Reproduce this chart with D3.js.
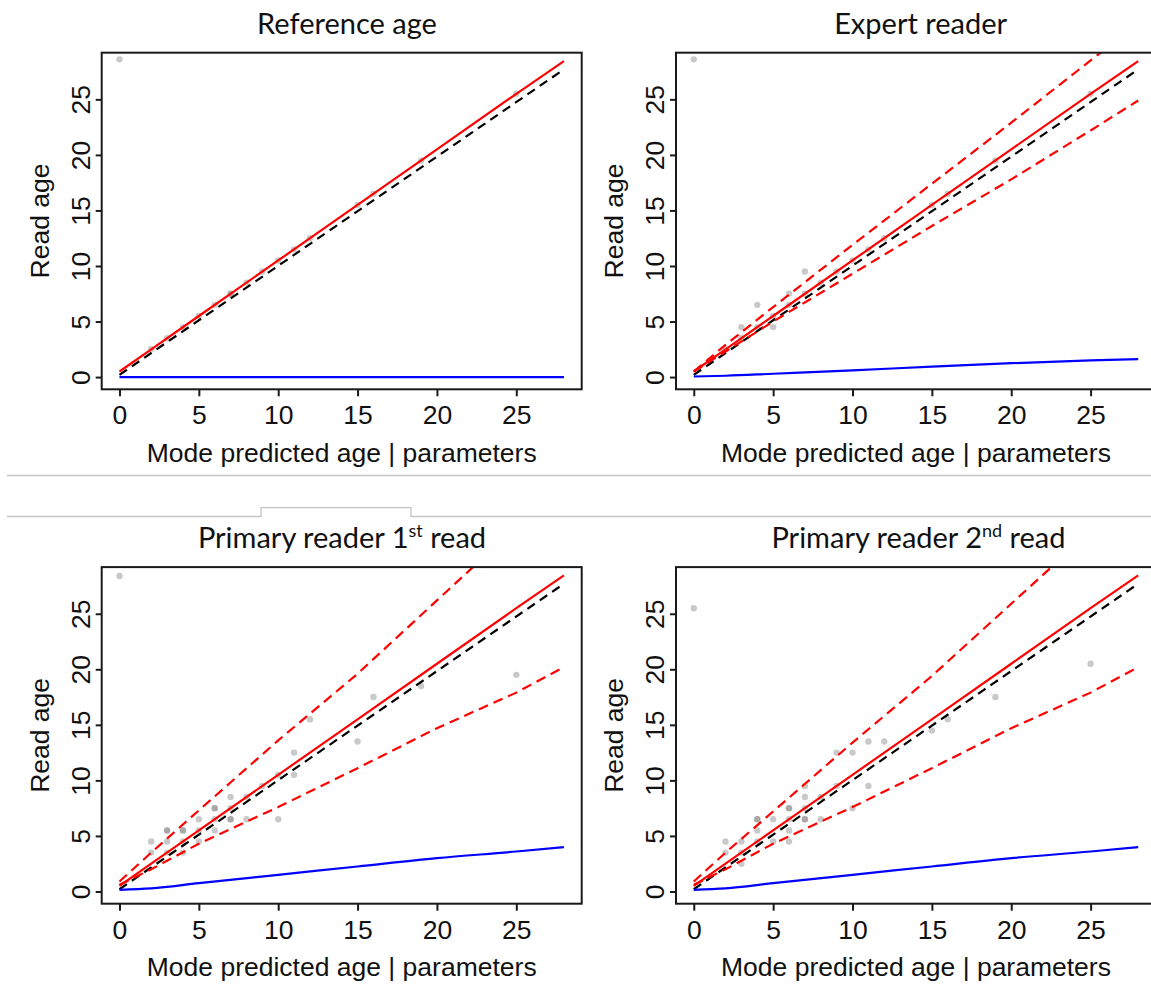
<!DOCTYPE html>
<html>
<head>
<meta charset="utf-8">
<script src="https://cdn.jsdelivr.net/npm/d3@7"></script>
<style>
body{margin:0;background:#fff;}
svg{display:block;}
.tick text{font-family:"Liberation Sans",Arial,sans-serif;font-size:26.5px;fill:#111;}
</style>
</head>
<body>
<svg id="chart" width="1151" height="986"></svg>
<script>
// tick values shared by all panels
const xTicks=[0,5,10,15,20,25];
const yTicks=[0,5,10,15,20,25];

// x positions where the fitted curves were read
const curveX=[0,2,5,10,15,20,25,28];

// 1:1 reference (black dashed) and mean fit (red solid), same in every panel
const diagX=[0,28];
const diagY=[0.2,27.7];
const fitY=[0.5,2.5,5.5,10.5,15.5,20.5,25.5,28.45];

// Reference age
const refPtsX=[0,2,3,4,5,6,7,7,8,9,10,11,12,15,16,19,25];
const refPtsY=[28.6,2.5,3.5,4.5,5.5,6.5,7.5,7.5,8.5,9.5,10.5,11.5,12.5,15.5,16.5,19.5,25.5];
const refSd=[0,0,0,0,0,0,0,0];

// Expert reader
const expPtsX=[0,1,2,3,3,4,4,5,5,6,6,7,7,8,9,10,11,12,15,16,19,25];
const expPtsY=[28.6,1.5,2.5,4.5,3.5,6.5,4.5,4.5,5.5,7.5,6.5,9.5,7.5,8.5,9.5,10.5,11.5,12.5,15.5,16.5,19.5,25.5];
const expUpper=[0.5,2.9,6.3,11.9,17.4,22.9,28.5,31.8];
const expLower=[0.5,2.3,5.0,9.3,13.6,17.8,22.2,24.9];
const expSd=[0.05,0.12,0.3,0.6,0.95,1.25,1.5,1.62];

// Primary reader 1st read
const pr1PtsX=[0,2,2,3,3,3,3,4,4,4,4,5,5,5,6,6,6,6,7,7,7,7,8,8,9,10,10,11,11,12,15,16,19,25];
const pr1PtsY=[28.4,4.5,3.5,5.5,5.5,4.5,3.5,5.5,5.5,4.5,3.5,6.5,5.5,4.5,7.5,7.5,6.5,5.5,8.5,7.5,6.5,6.5,8.5,6.5,9.5,10.5,6.5,12.5,10.5,15.5,13.5,17.5,18.5,19.5];
const pr1Upper=[0.9,3.5,7.3,13.6,19.6,26.2,32.8,36.8];
const pr1Lower=[0.6,2.0,4.3,7.6,11.1,14.7,17.9,20.2];
const pr1Sd=[0.15,0.28,0.75,1.5,2.25,3.0,3.6,4.0];

// Primary reader 2nd read
const pr2PtsX=[0,2,2,3,3,3,4,4,4,4,5,5,6,6,6,6,6,7,7,7,7,7,8,8,9,9,10,10,11,11,12,15,16,19,25];
const pr2PtsY=[25.5,4.5,3.5,4.5,3.5,2.5,6.5,6.5,5.5,4.5,6.5,4.5,7.5,7.5,6.5,5.5,4.5,9.5,8.5,7.5,6.5,6.5,8.5,6.5,12.5,9.5,12.5,7.5,13.5,9.5,13.5,14.5,15.5,17.5,20.5];
const pr2Upper=[0.9,3.5,7.2,13.4,19.4,25.9,32.4,36.4];
const pr2Lower=[0.6,2.0,4.3,7.6,11.1,14.7,17.9,20.2];
const pr2Sd=[0.15,0.28,0.75,1.5,2.25,3.0,3.6,4.0];

const panels=[
  {title:["Reference age"],ptsX:refPtsX,ptsY:refPtsY,upper:null,lower:null,sd:refSd},
  {title:["Expert reader"],ptsX:expPtsX,ptsY:expPtsY,upper:expUpper,lower:expLower,sd:expSd},
  {title:["Primary reader 1","st"," read"],ptsX:pr1PtsX,ptsY:pr1PtsY,upper:pr1Upper,lower:pr1Lower,sd:pr1Sd},
  {title:["Primary reader 2","nd"," read"],ptsX:pr2PtsX,ptsY:pr2PtsY,upper:pr2Upper,lower:pr2Lower,sd:pr2Sd}
];

// layout
const plotW=480, plotH=336.6;
const lefts=[101.7,676], tops=[52.7,567.1];
const titleDx=[245.3,244.6,240.3,242.5];

const svg=d3.select('#chart');

// separator lines left over from the slide
svg.append('line').attr('x1',7).attr('x2',1151).attr('y1',475.5).attr('y2',475.5)
  .attr('stroke','#c4c4c4').attr('stroke-width',1.3);
svg.append('path').attr('d','M7,516.5H261V507.7H411V516.5H1151')
  .attr('fill','none').attr('stroke','#c4c4c4').attr('stroke-width',1.3);

const x=d3.scaleLinear().domain([-1.12,29.12]).range([0,plotW]);
const y=d3.scaleLinear().domain([-1.1,29.2]).range([plotH,0]);

function curve(xs,ys,smooth){
  return d3.line().x(d=>x(d[0])).y(d=>y(d[1]))
    .curve(smooth?d3.curveMonotoneX:d3.curveLinear)(d3.zip(xs,ys));
}

panels.forEach((p,i)=>{
  let col=i%2, row=Math.floor(i/2);
  let g=svg.append('g').attr('transform','translate('+lefts[col]+','+tops[row]+')');

  g.append('clipPath').attr('id','clip'+i)
    .append('rect').attr('width',plotW).attr('height',plotH);
  let inner=g.append('g').attr('clip-path','url(#clip'+i+')');

  // points
  inner.selectAll('circle').data(d3.zip(p.ptsX,p.ptsY)).enter()
    .append('circle')
    .attr('cx',d=>x(d[0])).attr('cy',d=>y(d[1])).attr('r',3.2)
    .attr('fill','#777').attr('fill-opacity',0.4);

  // black 1:1 dashed
  inner.append('path').attr('d',curve(diagX,diagY))
    .attr('fill','none').attr('stroke','#000').attr('stroke-width',2.2)
    .attr('stroke-dasharray','9,6');

  // red bounds
  [p.upper,p.lower].forEach(b=>{
    if(!b) return;
    inner.append('path').attr('d',curve(curveX,b))
      .attr('fill','none').attr('stroke','#ff0000').attr('stroke-width',2.2)
      .attr('stroke-dasharray','10,6');
  });

  // red fit
  inner.append('path').attr('d',curve(curveX,fitY))
    .attr('fill','none').attr('stroke','#ff0000').attr('stroke-width',2.2);

  // blue sd
  inner.append('path').attr('d',curve(curveX,p.sd,true))
    .attr('fill','none').attr('stroke','#0000ff').attr('stroke-width',2.2);

  // frame
  g.append('rect').attr('width',plotW).attr('height',plotH)
    .attr('fill','none').attr('stroke','#1a1a1a').attr('stroke-width',2);

  // axes
  let xa=g.append('g').attr('transform','translate(0,'+plotH+')')
    .call(d3.axisBottom(x).tickValues(xTicks).tickSize(7).tickSizeOuter(0));
  xa.select('.domain').remove();
  xa.selectAll('line').attr('stroke','#1a1a1a').attr('stroke-width',2);
  xa.selectAll('text').attr('y',35).attr('dy',0);

  let ya=g.append('g')
    .call(d3.axisLeft(y).tickValues(yTicks).tickSize(6).tickSizeOuter(0));
  ya.select('.domain').remove();
  ya.selectAll('line').attr('stroke','#1a1a1a').attr('stroke-width',2);
  ya.selectAll('text').attr('transform','rotate(-90)')
    .attr('x',0).attr('y',-11.7).attr('dy',0).attr('text-anchor','middle');

  // axis titles
  g.append('text').attr('x',plotW/2).attr('y',409.3)
    .attr('text-anchor','middle')
    .style('font-family','"Liberation Sans",Arial,sans-serif').style('font-size','26.5px').attr('fill','#111')
    .text('Mode predicted age | parameters');
  g.append('text').attr('transform','translate(-52.7,'+(plotH/2)+') rotate(-90)')
    .attr('text-anchor','middle')
    .style('font-family','"Liberation Sans",Arial,sans-serif').style('font-size','26.5px').attr('fill','#111')
    .text('Read age');

  // panel title
  let t=g.append('text').attr('x',titleDx[i]).attr('y',-19)
    .attr('text-anchor','middle')
    .style('font-family','Lato,"Open Sans",sans-serif').style('font-size','29px').attr('fill','#111');
  t.append('tspan').text(p.title[0]);
  if(p.title.length>1){
    t.append('tspan').attr('dy',-11).style('font-size','18px').text(p.title[1]);
    t.append('tspan').attr('dy',11).text(p.title[2]);
  }
});
</script>
</body>
</html>
